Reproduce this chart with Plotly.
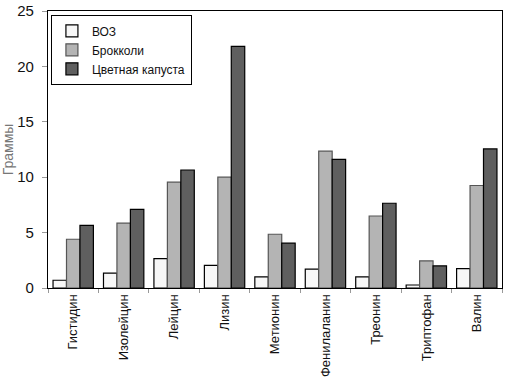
import plotly.graph_objects as go

categories = ["Гистидин", "Изолейцин", "Лейцин", "Лизин", "Метионин",
              "Фенилаланин", "Треонин", "Триптофан", "Валин"]
who = [0.7, 1.35, 2.65, 2.05, 1.0, 1.7, 1.0, 0.27, 1.75]
broccoli = [4.4, 5.85, 9.55, 10.0, 4.85, 12.35, 6.5, 2.45, 9.25]
cauliflower = [5.65, 7.1, 10.65, 21.8, 4.05, 11.6, 7.65, 2.0, 12.55]

font = "Liberation Sans, Arial"

fig = go.Figure()
fig.add_trace(go.Bar(name="ВОЗ", x=categories, y=who,
                     marker=dict(color="#f7f7f7", line=dict(color="#000000", width=1.2))))
fig.add_trace(go.Bar(name="Брокколи", x=categories, y=broccoli,
                     marker=dict(color="#b4b4b4", line=dict(color="#555555", width=1.2))))
fig.add_trace(go.Bar(name="Цветная капуста", x=categories, y=cauliflower,
                     marker=dict(color="#5f5f5f", line=dict(color="#000000", width=1.2))))

fig.update_layout(
    width=525, height=387,
    margin=dict(l=48, r=23, t=11, b=99, autoexpand=False),
    paper_bgcolor="white", plot_bgcolor="white",
    barmode="group", bargap=0.2, bargroupgap=0,
    font=dict(family=font, size=13, color="#222222"),
    showlegend=True,
    legend=dict(x=0.006, y=0.985, xanchor="left", yanchor="top",
                bordercolor="#000000", borderwidth=1.2, bgcolor="white",
                font=dict(family=font, size=12, color="#111111"),
                tracegroupgap=0, itemwidth=30),
    xaxis=dict(showline=True, linecolor="#000000", linewidth=1.2, mirror=True,
               ticks="outside", ticklen=4, tickcolor="#999999", tickson="boundaries",
               tickangle=-90, tickfont=dict(family=font, size=13, color="#111111"),
               showgrid=False, automargin=False),
    yaxis=dict(range=[0, 25], dtick=5, showline=True, linecolor="#000000", linewidth=1.2,
               mirror=True, ticks="outside", ticklen=5, tickcolor="#999999",
               showgrid=False, zeroline=False, ticklabelstandoff=5, automargin=False,
               tickfont=dict(family=font, size=15, color="#111111"),
               title=dict(text="Граммы", font=dict(family=font, size=14, color="#777777"),
                          standoff=3)),
)

fig.write_html("out.html",
               config={"displayModeBar": False},
               post_script="document.body.style.margin='0';document.body.style.overflow='hidden';")
